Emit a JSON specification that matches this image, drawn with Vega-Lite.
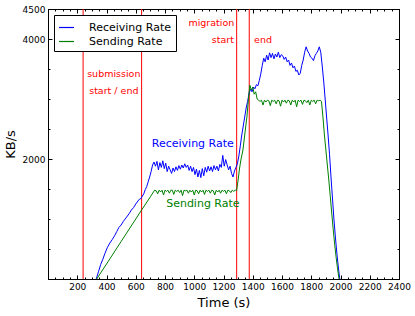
{
  "$schema": "https://vega.github.io/schema/vega-lite/v6.json",
  "width": 351,
  "height": 270,
  "autosize": {"type": "none"},
  "padding": {"left": 48, "top": 9, "right": 16, "bottom": 37},
  "background": "white",
  "config": {
    "view": {"stroke": "black", "strokeWidth": 1},
    "font": "DejaVu Sans",
    "axis": {
      "grid": false, "domainColor": "black", "tickColor": "black", "labelColor": "black", "titleColor": "black",
      "labelFont": "DejaVu Sans", "labelFontSize": 9, "titleFont": "DejaVu Sans", "titleFontSize": 13,
      "titleFontWeight": "normal", "labelFlush": false, "labelOverlap": false, "domainWidth": 1, "tickWidth": 1
    }
  },
  "datasets": {
    "events": [{"t": 240}, {"t": 640}, {"t": 1290}, {"t": 1376}],
    "red": [
      {"t": 450, "v": 3417, "label": "submission"},
      {"t": 450, "v": 3133, "label": "start / end"},
      {"t": 1117, "v": 4267, "label": "migration"},
      {"t": 1196, "v": 3983, "label": "start"},
      {"t": 1470, "v": 3983, "label": "end"}
    ],
    "blue": [{"t": 990, "v": 2250, "label": "Receiving Rate"}],
    "green": [{"t": 1059, "v": 1250, "label": "Sending Rate"}],
    "rate": [
      {"t":330,"v":0,"s":"Receiving Rate"},{"t":345,"v":120,"s":"Receiving Rate"},{"t":360,"v":240,"s":"Receiving Rate"},{"t":375,"v":330,"s":"Receiving Rate"},{"t":390,"v":430,"s":"Receiving Rate"},{"t":405,"v":520,"s":"Receiving Rate"},{"t":423,"v":600,"s":"Receiving Rate"},{"t":440,"v":660,"s":"Receiving Rate"},{"t":455,"v":720,"s":"Receiving Rate"},{"t":470,"v":790,"s":"Receiving Rate"},{"t":485,"v":860,"s":"Receiving Rate"},{"t":500,"v":900,"s":"Receiving Rate"},{"t":515,"v":960,"s":"Receiving Rate"},{"t":538,"v":1033,"s":"Receiving Rate"},{"t":555,"v":1090,"s":"Receiving Rate"},{"t":570,"v":1150,"s":"Receiving Rate"},{"t":585,"v":1190,"s":"Receiving Rate"},{"t":600,"v":1250,"s":"Receiving Rate"},{"t":615,"v":1300,"s":"Receiving Rate"},{"t":625,"v":1330,"s":"Receiving Rate"},{"t":635,"v":1340,"s":"Receiving Rate"},{"t":645,"v":1380,"s":"Receiving Rate"},{"t":655,"v":1420,"s":"Receiving Rate"},{"t":665,"v":1490,"s":"Receiving Rate"},{"t":675,"v":1540,"s":"Receiving Rate"},{"t":685,"v":1620,"s":"Receiving Rate"},{"t":695,"v":1700,"s":"Receiving Rate"},{"t":705,"v":1790,"s":"Receiving Rate"},{"t":715,"v":1900,"s":"Receiving Rate"},{"t":725,"v":1950,"s":"Receiving Rate"},{"t":735,"v":1880,"s":"Receiving Rate"},{"t":745,"v":1960,"s":"Receiving Rate"},{"t":755,"v":1820,"s":"Receiving Rate"},{"t":765,"v":1940,"s":"Receiving Rate"},{"t":775,"v":1860,"s":"Receiving Rate"},{"t":785,"v":1970,"s":"Receiving Rate"},{"t":795,"v":1840,"s":"Receiving Rate"},{"t":805,"v":1930,"s":"Receiving Rate"},{"t":815,"v":1790,"s":"Receiving Rate"},{"t":825,"v":1880,"s":"Receiving Rate"},{"t":835,"v":1820,"s":"Receiving Rate"},{"t":845,"v":1760,"s":"Receiving Rate"},{"t":855,"v":1850,"s":"Receiving Rate"},{"t":865,"v":1790,"s":"Receiving Rate"},{"t":875,"v":1870,"s":"Receiving Rate"},{"t":885,"v":1810,"s":"Receiving Rate"},{"t":895,"v":1890,"s":"Receiving Rate"},{"t":905,"v":1830,"s":"Receiving Rate"},{"t":915,"v":1900,"s":"Receiving Rate"},{"t":925,"v":1850,"s":"Receiving Rate"},{"t":935,"v":1920,"s":"Receiving Rate"},{"t":945,"v":1860,"s":"Receiving Rate"},{"t":955,"v":1900,"s":"Receiving Rate"},{"t":965,"v":1810,"s":"Receiving Rate"},{"t":975,"v":1880,"s":"Receiving Rate"},{"t":985,"v":1790,"s":"Receiving Rate"},{"t":995,"v":1860,"s":"Receiving Rate"},{"t":1005,"v":1740,"s":"Receiving Rate"},{"t":1015,"v":1830,"s":"Receiving Rate"},{"t":1025,"v":1700,"s":"Receiving Rate"},{"t":1035,"v":1810,"s":"Receiving Rate"},{"t":1045,"v":1690,"s":"Receiving Rate"},{"t":1055,"v":1840,"s":"Receiving Rate"},{"t":1065,"v":1720,"s":"Receiving Rate"},{"t":1075,"v":1860,"s":"Receiving Rate"},{"t":1085,"v":1780,"s":"Receiving Rate"},{"t":1095,"v":1880,"s":"Receiving Rate"},{"t":1105,"v":1800,"s":"Receiving Rate"},{"t":1115,"v":1870,"s":"Receiving Rate"},{"t":1125,"v":1790,"s":"Receiving Rate"},{"t":1135,"v":1890,"s":"Receiving Rate"},{"t":1145,"v":1820,"s":"Receiving Rate"},{"t":1155,"v":1880,"s":"Receiving Rate"},{"t":1165,"v":1800,"s":"Receiving Rate"},{"t":1175,"v":1910,"s":"Receiving Rate"},{"t":1185,"v":1860,"s":"Receiving Rate"},{"t":1195,"v":2060,"s":"Receiving Rate"},{"t":1205,"v":1880,"s":"Receiving Rate"},{"t":1215,"v":1990,"s":"Receiving Rate"},{"t":1225,"v":1900,"s":"Receiving Rate"},{"t":1235,"v":1820,"s":"Receiving Rate"},{"t":1245,"v":1880,"s":"Receiving Rate"},{"t":1255,"v":1760,"s":"Receiving Rate"},{"t":1265,"v":1700,"s":"Receiving Rate"},{"t":1275,"v":1800,"s":"Receiving Rate"},{"t":1285,"v":1860,"s":"Receiving Rate"},{"t":1295,"v":1920,"s":"Receiving Rate"},{"t":1305,"v":2050,"s":"Receiving Rate"},{"t":1315,"v":2220,"s":"Receiving Rate"},{"t":1325,"v":2400,"s":"Receiving Rate"},{"t":1335,"v":2550,"s":"Receiving Rate"},{"t":1345,"v":2700,"s":"Receiving Rate"},{"t":1355,"v":2850,"s":"Receiving Rate"},{"t":1365,"v":2960,"s":"Receiving Rate"},{"t":1375,"v":3100,"s":"Receiving Rate"},{"t":1385,"v":3160,"s":"Receiving Rate"},{"t":1395,"v":3120,"s":"Receiving Rate"},{"t":1405,"v":3200,"s":"Receiving Rate"},{"t":1415,"v":3170,"s":"Receiving Rate"},{"t":1425,"v":3240,"s":"Receiving Rate"},{"t":1435,"v":3220,"s":"Receiving Rate"},{"t":1445,"v":3310,"s":"Receiving Rate"},{"t":1455,"v":3420,"s":"Receiving Rate"},{"t":1465,"v":3560,"s":"Receiving Rate"},{"t":1475,"v":3680,"s":"Receiving Rate"},{"t":1485,"v":3620,"s":"Receiving Rate"},{"t":1495,"v":3730,"s":"Receiving Rate"},{"t":1505,"v":3650,"s":"Receiving Rate"},{"t":1515,"v":3770,"s":"Receiving Rate"},{"t":1525,"v":3690,"s":"Receiving Rate"},{"t":1535,"v":3760,"s":"Receiving Rate"},{"t":1545,"v":3670,"s":"Receiving Rate"},{"t":1555,"v":3750,"s":"Receiving Rate"},{"t":1565,"v":3700,"s":"Receiving Rate"},{"t":1575,"v":3780,"s":"Receiving Rate"},{"t":1585,"v":3690,"s":"Receiving Rate"},{"t":1595,"v":3740,"s":"Receiving Rate"},{"t":1605,"v":3720,"s":"Receiving Rate"},{"t":1615,"v":3660,"s":"Receiving Rate"},{"t":1625,"v":3700,"s":"Receiving Rate"},{"t":1635,"v":3620,"s":"Receiving Rate"},{"t":1645,"v":3650,"s":"Receiving Rate"},{"t":1655,"v":3560,"s":"Receiving Rate"},{"t":1665,"v":3600,"s":"Receiving Rate"},{"t":1675,"v":3520,"s":"Receiving Rate"},{"t":1685,"v":3550,"s":"Receiving Rate"},{"t":1695,"v":3460,"s":"Receiving Rate"},{"t":1705,"v":3480,"s":"Receiving Rate"},{"t":1715,"v":3400,"s":"Receiving Rate"},{"t":1725,"v":3430,"s":"Receiving Rate"},{"t":1735,"v":3560,"s":"Receiving Rate"},{"t":1745,"v":3650,"s":"Receiving Rate"},{"t":1755,"v":3780,"s":"Receiving Rate"},{"t":1765,"v":3870,"s":"Receiving Rate"},{"t":1775,"v":3800,"s":"Receiving Rate"},{"t":1785,"v":3760,"s":"Receiving Rate"},{"t":1795,"v":3700,"s":"Receiving Rate"},{"t":1805,"v":3680,"s":"Receiving Rate"},{"t":1815,"v":3640,"s":"Receiving Rate"},{"t":1825,"v":3720,"s":"Receiving Rate"},{"t":1835,"v":3760,"s":"Receiving Rate"},{"t":1845,"v":3800,"s":"Receiving Rate"},{"t":1855,"v":3870,"s":"Receiving Rate"},{"t":1865,"v":3780,"s":"Receiving Rate"},{"t":1875,"v":3550,"s":"Receiving Rate"},{"t":1885,"v":3300,"s":"Receiving Rate"},{"t":1895,"v":3000,"s":"Receiving Rate"},{"t":1905,"v":2700,"s":"Receiving Rate"},{"t":1915,"v":2400,"s":"Receiving Rate"},{"t":1925,"v":2080,"s":"Receiving Rate"},{"t":1935,"v":1700,"s":"Receiving Rate"},{"t":1945,"v":1350,"s":"Receiving Rate"},{"t":1955,"v":1000,"s":"Receiving Rate"},{"t":1965,"v":700,"s":"Receiving Rate"},{"t":1975,"v":430,"s":"Receiving Rate"},{"t":1985,"v":200,"s":"Receiving Rate"},{"t":1995,"v":0,"s":"Receiving Rate"},
      {"t":333,"v":0,"s":"Sending Rate"},{"t":400,"v":250,"s":"Sending Rate"},{"t":500,"v":625,"s":"Sending Rate"},{"t":600,"v":1000,"s":"Sending Rate"},{"t":636,"v":1135,"s":"Sending Rate"},{"t":700,"v":1370,"s":"Sending Rate"},{"t":729,"v":1480,"s":"Sending Rate"},{"t":740,"v":1470,"s":"Sending Rate"},{"t":750,"v":1420,"s":"Sending Rate"},{"t":760,"v":1480,"s":"Sending Rate"},{"t":770,"v":1450,"s":"Sending Rate"},{"t":780,"v":1480,"s":"Sending Rate"},{"t":790,"v":1400,"s":"Sending Rate"},{"t":800,"v":1480,"s":"Sending Rate"},{"t":810,"v":1460,"s":"Sending Rate"},{"t":820,"v":1480,"s":"Sending Rate"},{"t":830,"v":1430,"s":"Sending Rate"},{"t":840,"v":1480,"s":"Sending Rate"},{"t":850,"v":1480,"s":"Sending Rate"},{"t":860,"v":1410,"s":"Sending Rate"},{"t":870,"v":1480,"s":"Sending Rate"},{"t":880,"v":1460,"s":"Sending Rate"},{"t":890,"v":1480,"s":"Sending Rate"},{"t":900,"v":1440,"s":"Sending Rate"},{"t":910,"v":1480,"s":"Sending Rate"},{"t":920,"v":1390,"s":"Sending Rate"},{"t":930,"v":1480,"s":"Sending Rate"},{"t":940,"v":1470,"s":"Sending Rate"},{"t":950,"v":1480,"s":"Sending Rate"},{"t":960,"v":1430,"s":"Sending Rate"},{"t":970,"v":1480,"s":"Sending Rate"},{"t":980,"v":1450,"s":"Sending Rate"},{"t":990,"v":1480,"s":"Sending Rate"},{"t":1000,"v":1400,"s":"Sending Rate"},{"t":1010,"v":1480,"s":"Sending Rate"},{"t":1020,"v":1470,"s":"Sending Rate"},{"t":1030,"v":1420,"s":"Sending Rate"},{"t":1040,"v":1480,"s":"Sending Rate"},{"t":1050,"v":1450,"s":"Sending Rate"},{"t":1060,"v":1480,"s":"Sending Rate"},{"t":1070,"v":1410,"s":"Sending Rate"},{"t":1080,"v":1480,"s":"Sending Rate"},{"t":1090,"v":1460,"s":"Sending Rate"},{"t":1100,"v":1480,"s":"Sending Rate"},{"t":1110,"v":1430,"s":"Sending Rate"},{"t":1120,"v":1480,"s":"Sending Rate"},{"t":1130,"v":1470,"s":"Sending Rate"},{"t":1140,"v":1400,"s":"Sending Rate"},{"t":1150,"v":1480,"s":"Sending Rate"},{"t":1160,"v":1450,"s":"Sending Rate"},{"t":1170,"v":1480,"s":"Sending Rate"},{"t":1180,"v":1430,"s":"Sending Rate"},{"t":1190,"v":1480,"s":"Sending Rate"},{"t":1200,"v":1460,"s":"Sending Rate"},{"t":1210,"v":1480,"s":"Sending Rate"},{"t":1220,"v":1420,"s":"Sending Rate"},{"t":1230,"v":1480,"s":"Sending Rate"},{"t":1240,"v":1470,"s":"Sending Rate"},{"t":1250,"v":1440,"s":"Sending Rate"},{"t":1260,"v":1480,"s":"Sending Rate"},{"t":1270,"v":1460,"s":"Sending Rate"},{"t":1280,"v":1480,"s":"Sending Rate"},{"t":1290,"v":1480,"s":"Sending Rate"},{"t":1300,"v":1650,"s":"Sending Rate"},{"t":1310,"v":1850,"s":"Sending Rate"},{"t":1320,"v":2000,"s":"Sending Rate"},{"t":1333,"v":2150,"s":"Sending Rate"},{"t":1345,"v":2400,"s":"Sending Rate"},{"t":1360,"v":2700,"s":"Sending Rate"},{"t":1370,"v":2980,"s":"Sending Rate"},{"t":1380,"v":3230,"s":"Sending Rate"},{"t":1390,"v":3150,"s":"Sending Rate"},{"t":1400,"v":3200,"s":"Sending Rate"},{"t":1410,"v":3080,"s":"Sending Rate"},{"t":1420,"v":3120,"s":"Sending Rate"},{"t":1430,"v":3000,"s":"Sending Rate"},{"t":1440,"v":2980,"s":"Sending Rate"},{"t":1450,"v":2960,"s":"Sending Rate"},{"t":1460,"v":2980,"s":"Sending Rate"},{"t":1470,"v":2900,"s":"Sending Rate"},{"t":1480,"v":2980,"s":"Sending Rate"},{"t":1490,"v":2950,"s":"Sending Rate"},{"t":1500,"v":2980,"s":"Sending Rate"},{"t":1510,"v":2970,"s":"Sending Rate"},{"t":1520,"v":2890,"s":"Sending Rate"},{"t":1530,"v":2980,"s":"Sending Rate"},{"t":1540,"v":2960,"s":"Sending Rate"},{"t":1550,"v":2980,"s":"Sending Rate"},{"t":1560,"v":2920,"s":"Sending Rate"},{"t":1570,"v":2980,"s":"Sending Rate"},{"t":1580,"v":2970,"s":"Sending Rate"},{"t":1590,"v":2880,"s":"Sending Rate"},{"t":1600,"v":2980,"s":"Sending Rate"},{"t":1610,"v":2950,"s":"Sending Rate"},{"t":1620,"v":2980,"s":"Sending Rate"},{"t":1630,"v":2930,"s":"Sending Rate"},{"t":1640,"v":2980,"s":"Sending Rate"},{"t":1650,"v":2970,"s":"Sending Rate"},{"t":1660,"v":2900,"s":"Sending Rate"},{"t":1670,"v":2980,"s":"Sending Rate"},{"t":1680,"v":2950,"s":"Sending Rate"},{"t":1690,"v":2980,"s":"Sending Rate"},{"t":1700,"v":2870,"s":"Sending Rate"},{"t":1710,"v":2980,"s":"Sending Rate"},{"t":1720,"v":2960,"s":"Sending Rate"},{"t":1730,"v":2980,"s":"Sending Rate"},{"t":1740,"v":2910,"s":"Sending Rate"},{"t":1750,"v":2980,"s":"Sending Rate"},{"t":1760,"v":2970,"s":"Sending Rate"},{"t":1770,"v":2940,"s":"Sending Rate"},{"t":1780,"v":2980,"s":"Sending Rate"},{"t":1790,"v":2900,"s":"Sending Rate"},{"t":1800,"v":2980,"s":"Sending Rate"},{"t":1810,"v":2960,"s":"Sending Rate"},{"t":1820,"v":2980,"s":"Sending Rate"},{"t":1830,"v":2920,"s":"Sending Rate"},{"t":1840,"v":2980,"s":"Sending Rate"},{"t":1850,"v":2970,"s":"Sending Rate"},{"t":1860,"v":2980,"s":"Sending Rate"},{"t":1870,"v":2960,"s":"Sending Rate"},{"t":1880,"v":2700,"s":"Sending Rate"},{"t":1890,"v":2400,"s":"Sending Rate"},{"t":1900,"v":2150,"s":"Sending Rate"},{"t":1910,"v":1900,"s":"Sending Rate"},{"t":1920,"v":1650,"s":"Sending Rate"},{"t":1930,"v":1380,"s":"Sending Rate"},{"t":1940,"v":1100,"s":"Sending Rate"},{"t":1950,"v":830,"s":"Sending Rate"},{"t":1960,"v":580,"s":"Sending Rate"},{"t":1970,"v":360,"s":"Sending Rate"},{"t":1980,"v":170,"s":"Sending Rate"},{"t":1990,"v":0,"s":"Sending Rate"}
    ]
  },
  "layer": [
    {
      "data": {"name": "events"},
      "mark": {"type": "rule", "color": "#ff0000", "strokeWidth": 1},
      "encoding": {
        "x": {"field": "t", "type": "quantitative", "scale": {"domain": [0, 2400], "nice": false, "zero": false}, "axis": null}
      }
    },
    {
      "data": {"name": "rate"},
      "mark": {"type": "line", "strokeWidth": 1},
      "encoding": {
        "x": {"field": "t", "type": "quantitative", "scale": {"domain": [0, 2400], "nice": false, "zero": false},
          "axis": {"orient": "bottom", "values": [200, 400, 600, 800, 1000, 1200, 1400, 1600, 1800, 2000, 2200, 2400], "format": "d", "tickSize": -4, "labelPadding": 7, "title": "Time (s)", "titlePadding": 5}},
        "y": {"field": "v", "type": "quantitative", "scale": {"domain": [0, 4500], "nice": false, "zero": false},
          "axis": {"orient": "left", "values": [2000, 4000, 4500], "format": "d", "tickSize": -4, "labelPadding": 7, "title": "KB/s", "titlePadding": 5}},
        "color": {"field": "s", "type": "nominal",
          "scale": {"domain": ["Receiving Rate", "Sending Rate"], "range": ["#0000ff", "#008000"]},
          "legend": {"orient": "none", "legendX": 6, "legendY": 6, "title": null, "symbolType": "stroke", "symbolSize": 225, "symbolStrokeWidth": 1.2, "labelFontSize": 11, "labelFont": "DejaVu Sans", "labelColor": "black", "labelOffset": 14, "padding": 4, "rowPadding": 0, "strokeColor": "black", "fillColor": "white", "cornerRadius": 0}}
      }
    },
    {
      "data": {"name": "red"},
      "mark": {"type": "text", "color": "#ff0000", "fontSize": 9.5, "font": "DejaVu Sans", "align": "center", "baseline": "middle"},
      "encoding": {
        "x": {"field": "t", "type": "quantitative", "scale": {"domain": [0, 2400], "nice": false, "zero": false},
          "axis": {"orient": "bottom", "values": [0,50,100,150,200,250,300,350,400,450,500,550,600,650,700,750,800,850,900,950,1000,1050,1100,1150,1200,1250,1300,1350,1400,1450,1500,1550,1600,1650,1700,1750,1800,1850,1900,1950,2000,2050,2100,2150,2200,2250,2300,2350,2400], "tickSize": -2, "labels": false, "title": null}},
        "y": {"field": "v", "type": "quantitative", "scale": {"domain": [0, 4500], "nice": false, "zero": false},
          "axis": {"orient": "left", "values": [0,500,1000,1500,2000,2500,3000,3500,4000,4500], "tickSize": -2, "labels": false, "title": null}},
        "text": {"field": "label"}
      }
    },
    {
      "data": {"name": "blue"},
      "mark": {"type": "text", "color": "#0000ff", "fontSize": 11, "font": "DejaVu Sans", "align": "center", "baseline": "middle"},
      "encoding": {
        "x": {"field": "t", "type": "quantitative", "scale": {"domain": [0, 2400], "nice": false, "zero": false},
          "axis": {"orient": "top", "values": [0, 200, 400, 600, 800, 1000, 1200, 1400, 1600, 1800, 2000, 2200, 2400], "tickSize": -4, "labels": false, "title": null}},
        "y": {"field": "v", "type": "quantitative", "scale": {"domain": [0, 4500], "nice": false, "zero": false},
          "axis": {"orient": "right", "values": [2000, 4000], "tickSize": -4, "labels": false, "title": null}},
        "text": {"field": "label"}
      }
    },
    {
      "data": {"name": "green"},
      "mark": {"type": "text", "color": "#008000", "fontSize": 11, "font": "DejaVu Sans", "align": "center", "baseline": "middle"},
      "encoding": {
        "x": {"field": "t", "type": "quantitative", "scale": {"domain": [0, 2400], "nice": false, "zero": false},
          "axis": {"orient": "top", "values": [0,50,100,150,200,250,300,350,400,450,500,550,600,650,700,750,800,850,900,950,1000,1050,1100,1150,1200,1250,1300,1350,1400,1450,1500,1550,1600,1650,1700,1750,1800,1850,1900,1950,2000,2050,2100,2150,2200,2250,2300,2350,2400], "tickSize": -2, "labels": false, "title": null}},
        "y": {"field": "v", "type": "quantitative", "scale": {"domain": [0, 4500], "nice": false, "zero": false},
          "axis": {"orient": "right", "values": [0,500,1000,1500,2000,2500,3000,3500,4000,4500], "tickSize": -2, "labels": false, "title": null}},
        "text": {"field": "label"}
      }
    }
  ],
  "resolve": {"axis": {"x": "independent", "y": "independent"}}
}
